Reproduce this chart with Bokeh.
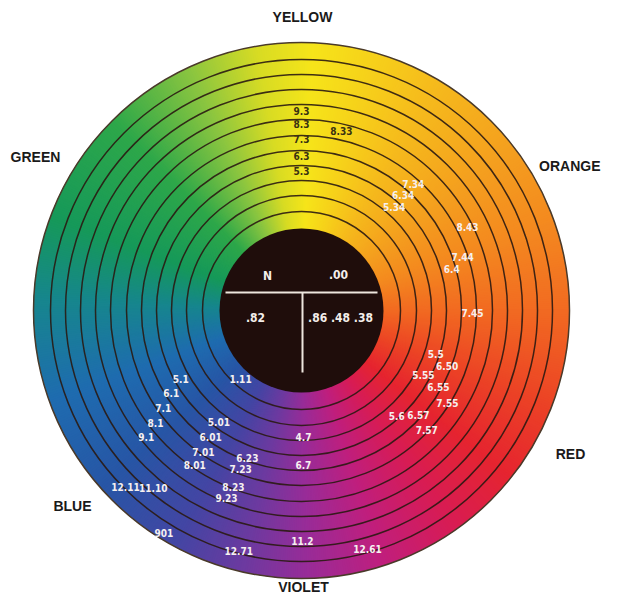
import numpy as np
from bokeh.plotting import figure
from bokeh.models import Range1d
from bokeh.core.properties import value
from bokeh.embed import file_html
from bokeh.resources import INLINE

# ---- colour wheel hue stops (angle in degrees, counter-clockwise from east) ----
hue_angles = [0, 20, 40, 60, 75, 88, 100, 115, 135, 160, 178, 200, 222, 242, 258, 272, 288, 305, 322, 340, 360]
hue_colors = ["#f26a22", "#f48a20", "#f5a21f", "#f6bb1d", "#f7d21b", "#f6e51a", "#d8dc24", "#8cc640",
              "#2ea84a", "#16995a", "#17868e", "#1f6cb0", "#2856a6", "#4446a4", "#6e3aa0", "#9a2c98",
              "#c01f7e", "#d81c55", "#e62530", "#ec4426", "#f26a22"]

# ---- ring geometry (data units) ----
outer_radius = 268
inner_radius = 82
ring_radii = [99, 115, 130, 145, 160, 175, 191, 206, 221, 236, 251]

# ---- hue names around the wheel ----
hue_names = ["YELLOW", "GREEN", "ORANGE", "RED", "BLUE", "VIOLET"]
hue_name_x = [1, -266, 299, 269, -229, 2]
hue_name_y = [294, 154, 145, -143, -195, -276]
hue_name_align = ["center", "center", "right", "center", "center", "center"]

# ---- shade numbers on the wheel (polar: angle deg, radius) ----
shade_labels = ["9.3", "8.3", "8.33", "7.3", "6.3", "5.3",
                "7.34", "6.34", "5.34", "8.43", "7.44", "6.4", "7.45",
                "5.5", "6.50", "5.55", "6.55", "7.55", "5.6", "6.57", "7.57",
                "5.1", "1.11", "6.1", "7.1", "8.1", "5.01", "9.1", "6.01", "4.7",
                "7.01", "6.23", "8.01", "7.23", "6.7", "11.10", "8.23", "9.23",
                "12.11", "901", "12.71", "11.2", "12.61"]
shade_angle = [90, 90, 77.5, 90, 90, 90,
               48.6, 48.7, 48.2, 26.8, 18.5, 15.6, -0.7,
               -17.8, -21.0, -28.0, -29.3, -32.5, -47.9, -41.9, -43.6,
               209.7, 228.5, 212.2, 215.1, 217.5, 233.5, 219.1, 234.4, 270.9,
               235.2, 249.8, 235.4, 249.0, 270.7, 230.1, 248.9, 248.2,
               225.0, 238.3, 255.4, 270.2, 285.5]
shade_radius = [200, 187, 184, 172, 155, 140,
                169, 154, 139, 186, 170, 156, 171,
                141, 156, 138, 157, 173, 142, 157, 173,
                139, 92, 154, 169, 184, 139, 200, 156, 127,
                172, 157, 188, 170, 155, 231, 189, 202,
                249, 262, 249, 231, 247]
dark_labels = {"9.3", "8.3", "8.33", "7.3", "6.3", "5.3"}

# ---- centre table ----
center_labels = ["N", ".00", ".82", ".86 .48 .38"]
center_x = [-34, 37, -46, 39]
center_y = [35, 36, -7, -7]

# figure pixels map 1:1 onto data units, wheel centre at pixel (301, 310)
p = figure(width=601, height=594, output_backend="svg", toolbar_location=None,
           x_range=Range1d(-301, 300), y_range=Range1d(-284, 310),
           min_border=0, background_fill_color="white", border_fill_color="white")
p.axis.visible = False
p.grid.visible = False
p.outline_line_color = None

# gradient wedges
step = 0.5
starts = np.arange(0, 360, step)
mids = starts + step / 2


def hex2rgb(h):
    return np.array([int(h[i:i + 2], 16) for i in (1, 3, 5)], dtype=float)


rgbs = np.array([hex2rgb(c) for c in hue_colors])
cols = []
for a in mids:
    r = np.interp(a, hue_angles, rgbs[:, 0])
    g = np.interp(a, hue_angles, rgbs[:, 1])
    b = np.interp(a, hue_angles, rgbs[:, 2])
    cols.append("#%02x%02x%02x" % (int(r), int(g), int(b)))

p.wedge(x=np.zeros(len(starts)), y=np.zeros(len(starts)), radius=outer_radius,
        start_angle=np.radians(starts - 0.3), end_angle=np.radians(starts + step + 0.3),
        fill_color=cols, line_color=None)

# ring lines
p.circle(x=np.zeros(len(ring_radii)), y=np.zeros(len(ring_radii)), radius=ring_radii,
         fill_color=None, line_color="#2a1a12", line_width=1.5, line_alpha=0.9)
p.circle(x=[0], y=[0], radius=outer_radius, fill_color=None,
         line_color="#4a3a2a", line_width=1.5)

# dark centre
p.circle(x=[0], y=[0], radius=inner_radius, fill_color="#1f0d0b", line_color=None)
hl_y = 18
half = np.sqrt(inner_radius ** 2 - hl_y ** 2) - 4
p.segment(x0=[-half, 1], y0=[hl_y, hl_y], x1=[half, 1], y1=[hl_y, hl_y - 80],
          line_color="#eee6de", line_width=2)
p.text(x=center_x, y=center_y, text=center_labels, text_color="#f4eeea",
       text_font=value("DejaVu Sans Condensed"), text_font_style="bold",
       text_font_size="12px", text_align="center", text_baseline="middle")

# shade labels
ang = np.radians(shade_angle)
sx = np.array(shade_radius) * np.cos(ang)
sy = np.array(shade_radius) * np.sin(ang)
scol = ["#3a3212" if t in dark_labels else "#f6f0f0" for t in shade_labels]
p.text(x=sx, y=sy, text=shade_labels, text_color=scol,
       text_font=value("DejaVu Sans Condensed"), text_font_style="bold",
       text_font_size="10px", text_align="center", text_baseline="middle")

# hue names
p.text(x=hue_name_x, y=hue_name_y, text=hue_names, text_color="#1a1a1a",
       text_font=value("Liberation Sans"), text_font_style="bold",
       text_font_size="14px", text_align=hue_name_align, text_baseline="middle")

open("out.html", "w").write(file_html(p, INLINE))
